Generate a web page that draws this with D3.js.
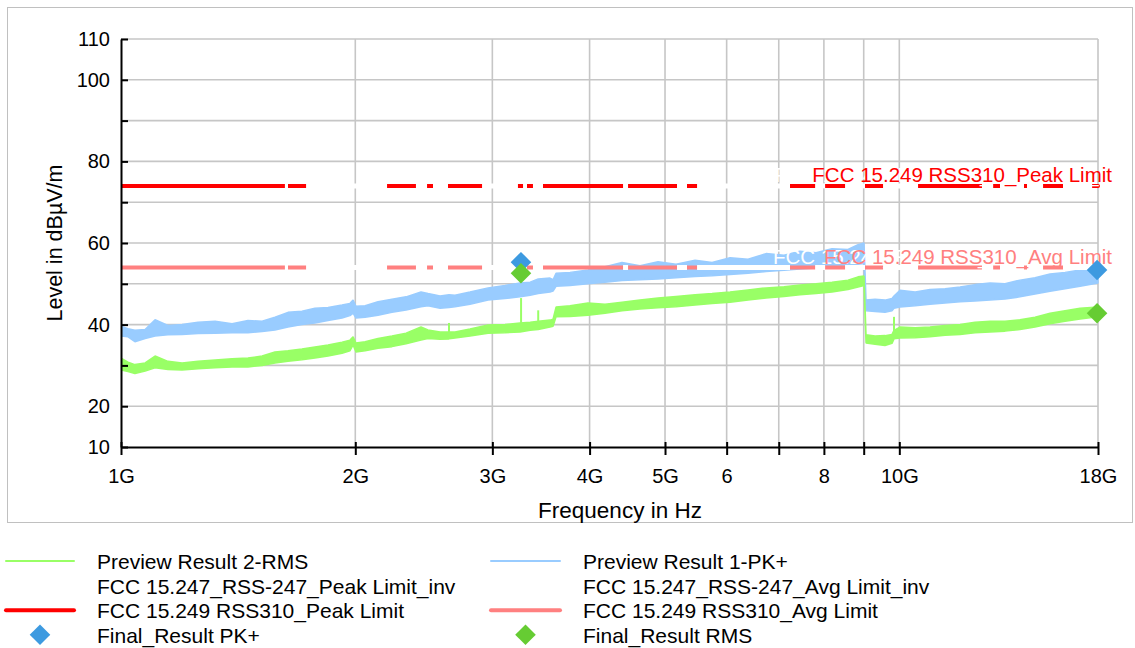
<!DOCTYPE html>
<html>
<head>
<meta charset="utf-8">
<script src="https://cdn.jsdelivr.net/npm/d3@7"></script>
<style>
  html, body { margin: 0; padding: 0; background: #fff; }
  svg { display: block; font-family: "Liberation Sans", Arial, sans-serif; }
</style>
</head>
<body>
<svg id="chart" width="1135" height="648"></svg>
<script>
// ---- Sweep data (frequency in GHz, level envelope in dBµV/m) ----
const freqGHz = [1.000, 1.021, 1.042, 1.074, 1.106, 1.149, 1.198, 1.256, 1.321, 1.389,
  1.456, 1.518, 1.577, 1.639, 1.708, 1.775, 1.845, 1.923, 1.969, 1.987,
  2.004, 2.059, 2.139, 2.229, 2.324, 2.429, 2.480, 2.570, 2.639, 2.686,
  2.808, 2.962, 3.114, 3.256, 3.355, 3.436, 3.558, 3.590, 3.622, 3.775,
  3.981, 4.187, 4.403, 4.643, 4.898, 5.166, 5.465, 5.747, 6.061, 6.392,
  6.742, 7.110, 7.454, 7.816, 8.194, 8.591, 8.850, 9.008, 9.062, 9.307,
  9.585, 9.786, 9.844, 10.02, 10.48, 10.95, 11.45, 11.97, 12.51, 13.08,
  13.67, 14.29, 14.94, 15.62, 16.33, 17.07, 18.00];

// Preview Result 1-PK+ (lower / upper edge of the trace)
const pkLo = [37.2, 37.0, 35.8, 36.6, 37.2, 37.5, 37.6, 37.8, 37.9, 38.0,
  38.0, 38.3, 38.7, 39.4, 40.0, 40.4, 41.0, 41.6, 42.2, 42.8,
  41.6, 41.8, 42.3, 43.0, 43.6, 44.4, 44.6, 44.0, 44.2, 44.4,
  45.0, 46.0, 46.4, 46.8, 47.2, 47.6, 48.0, 48.2, 49.4, 49.6,
  50.0, 50.4, 50.8, 51.0, 51.2, 51.5, 51.8, 52.0, 52.3, 52.6,
  53.0, 53.3, 53.6, 53.9, 54.2, 54.5, 54.8, 55.0, 43.4, 43.2,
  43.0, 43.4, 44.0, 44.3, 44.6, 45.0, 45.3, 45.6, 45.8, 46.0,
  46.3, 46.8, 47.5, 48.2, 48.8, 49.4, 50.2];
const pkHi = [39.6, 39.0, 38.6, 38.8, 41.2, 39.8, 40.0, 40.6, 40.8, 40.2,
  41.0, 40.8, 41.8, 43.0, 43.3, 44.0, 44.2, 44.8, 45.2, 46.0,
  44.5, 44.6, 45.6, 46.2, 46.8, 48.0, 47.6, 47.0, 47.3, 47.2,
  48.0, 49.0, 49.6, 50.2, 50.4, 51.2, 51.4, 51.0, 52.6, 52.8,
  53.4, 54.2, 55.2, 54.4, 55.4, 54.8, 55.8, 55.2, 56.4, 56.0,
  57.4, 57.0, 58.0, 57.6, 58.6, 58.4, 59.6, 60.0, 46.0, 46.2,
  46.0, 46.4, 47.0, 48.4, 48.0, 48.6, 48.8, 49.2, 49.8, 50.2,
  50.0, 50.9, 51.5, 52.4, 52.8, 53.4, 53.6];

// Preview Result 2-RMS (lower / upper edge of the trace)
const rmsLo = [28.9, 28.5, 28.0, 28.6, 29.4, 29.0, 28.9, 29.2, 29.4, 29.6,
  29.6, 30.0, 30.6, 31.0, 31.4, 31.8, 32.3, 33.0, 33.6, 35.0,
  33.3, 33.6, 34.2, 34.6, 35.3, 36.2, 36.6, 36.4, 36.5, 36.7,
  37.2, 37.9, 38.0, 38.2, 38.6, 38.8, 39.4, 39.6, 41.9, 42.0,
  42.3, 42.8, 43.4, 43.8, 44.1, 44.4, 44.8, 45.2, 45.5, 46.0,
  46.5, 46.9, 47.3, 47.6, 48.0, 48.6, 49.2, 49.6, 35.5, 35.2,
  34.9, 35.4, 36.5, 36.7, 36.8, 37.0, 37.4, 37.6, 38.0, 38.2,
  38.4, 38.8, 39.4, 40.2, 40.8, 41.4, 41.9];
const rmsHi = [31.8, 30.8, 30.2, 30.6, 32.3, 31.0, 30.6, 31.0, 31.3, 31.6,
  31.8, 32.3, 33.3, 33.6, 34.0, 34.5, 35.0, 35.7, 36.2, 37.0,
  35.5, 35.8, 36.6, 37.2, 37.9, 39.4, 38.7, 38.2, 38.2, 38.2,
  38.9, 39.9, 40.0, 40.4, 40.6, 40.8, 41.1, 41.3, 44.3, 44.6,
  45.3, 45.0, 45.5, 46.0, 46.5, 46.9, 47.3, 47.6, 48.0, 48.5,
  49.0, 49.3, 49.7, 50.0, 50.4, 50.9, 51.7, 51.9, 37.5, 37.2,
  37.3, 37.6, 38.6, 39.4, 39.2, 39.4, 39.8, 40.0, 40.6, 40.8,
  40.8, 41.2, 41.8, 42.8, 43.4, 44.0, 44.3];

// Narrow spurs that stand out above the traces
const rmsSpurFreq = [2.639, 3.266, 3.436, 9.844];
const rmsSpurBase = [38.0, 40.2, 40.6, 38.0];
const rmsSpurTop  = [40.4, 46.5, 43.5, 41.9];

// ---- Limits ----
const peakLimit = 74;   // FCC 15.249 RSS310 peak
const avgLimit = 54;    // FCC 15.249 RSS310 average
// Bands of the FCC 15.247 / RSS-247 "_inv" limits (drawn in white on the same levels)
const invBands = [[1.624, 1.639], [1.729, 2.197], [2.393, 2.473], [2.517, 2.631],
  [2.910, 3.236], [3.285, 3.324], [3.383, 3.485], [4.416, 4.482], [5.180, 5.336],
  [5.497, 7.237], [7.795, 8.029], [8.517, 9.035], [9.530, 10.57], [12.77, 13.20],
  [13.47, 14.46], [14.59, 15.30], [16.23, 17.69]];

// ---- Final measurements ----
const finalFreq = [3.265, 17.95];
const finalPk = [55.3, 53.4];
const finalRms = [52.6, 42.8];

// ---- Axes ----
const xTicks = [1, 2, 3, 4, 5, 6, 7, 8, 9, 10, 18];
const xTickLabels = ["1G", "2G", "3G", "4G", "5G", "6", "", "8", "", "10G", "18G"];
const yTicks = [10, 20, 30, 40, 50, 60, 70, 80, 90, 100, 110];
const yTickLabels = ["10", "20", "", "40", "", "60", "", "80", "", "100", "110"];

// ---- Colours ----
const cPk = "#99ccff", cRms = "#99ff66";
const cPeakLim = "#ff0000", cAvgLim = "#ff8080";
const cFinalPk = "#3d9ae0", cFinalRms = "#66cc33";
const cGrid = "#c6c6c6";

const svg = d3.select("#chart");
const L = 121, R = 1098, T = 39, B = 447;
const x = d3.scaleLog().domain([1, 18]).range([L, R]);
const y = d3.scaleLinear().domain([10, 110]).range([B, T]);

// outer frame
svg.append("rect").attr("x", 7.5).attr("y", 7.5).attr("width", 1125).attr("height", 515)
  .attr("fill", "none").attr("stroke", "#c0c0c0").attr("stroke-width", 1);

svg.append("defs").append("clipPath").attr("id", "plot")
  .append("rect").attr("x", L).attr("y", T - 12).attr("width", R - L + 14).attr("height", B - T + 12);

// grid
const grid = svg.append("g");
grid.selectAll("line.h").data(yTicks.filter(v => v > 10)).join("line")
  .attr("x1", L).attr("x2", R).attr("y1", d => y(d)).attr("y2", d => y(d))
  .attr("stroke", cGrid).attr("stroke-width", 1.6);
grid.selectAll("line.v").data(xTicks.filter(v => v > 1)).join("line")
  .attr("x1", d => x(d)).attr("x2", d => x(d)).attr("y1", T).attr("y2", B)
  .attr("stroke", cGrid).attr("stroke-width", 1.6);

const plot = svg.append("g").attr("clip-path", "url(#plot)");

const pkRows = freqGHz.map((f, i) => ({ f, lo: pkLo[i], hi: pkHi[i] }));
const rmsRows = freqGHz.map((f, i) => ({ f, lo: rmsLo[i], hi: rmsHi[i] }));
const band = d3.area().x(d => x(d.f)).y0(d => y(d.lo)).y1(d => y(d.hi)).curve(d3.curveLinear);

plot.append("path").datum(pkRows).attr("d", band)
  .attr("fill", cPk).attr("stroke", cPk).attr("stroke-width", 1.5).attr("stroke-linejoin", "bevel");
plot.append("path").datum(rmsRows).attr("d", band)
  .attr("fill", cRms).attr("stroke", cRms).attr("stroke-width", 1.5).attr("stroke-linejoin", "bevel");
plot.selectAll("line.spur").data(rmsSpurFreq).join("line")
  .attr("x1", d => x(d)).attr("x2", d => x(d))
  .attr("y1", (d, i) => y(rmsSpurBase[i])).attr("y2", (d, i) => y(rmsSpurTop[i]))
  .attr("stroke", cRms).attr("stroke-width", 2);

// limit lines
[[peakLimit, cPeakLim], [avgLimit, cAvgLim]].forEach(([lv, col]) => {
  plot.append("line").attr("x1", x(1)).attr("x2", x(18)).attr("y1", y(lv)).attr("y2", y(lv))
    .attr("stroke", col).attr("stroke-width", 4).attr("stroke-linecap", "round");
});
// white "_inv" limits on top
[peakLimit, avgLimit].forEach(lv => {
  plot.selectAll(null).data(invBands).join("line")
    .attr("x1", d => x(d[0])).attr("x2", d => x(d[1]))
    .attr("y1", y(lv)).attr("y2", y(lv))
    .attr("stroke", "#ffffff").attr("stroke-width", 5);
});

// limit labels (white _inv labels underneath the visible ones)
const labelX = x(18) + 14;
svg.append("text").attr("x", 775).attr("y", y(peakLimit) - 4).attr("fill", "#ffffff")
  .attr("font-size", 20.5).text("FCC 15.247_RSS-247_Peak Limit_inv");
svg.append("text").attr("x", 773).attr("y", y(avgLimit) - 3).attr("fill", "#ffffff")
  .attr("font-size", 20.5).text("FCC 15.247_RSS-247_Avg Limit_inv");
svg.append("text").attr("x", labelX).attr("y", y(peakLimit) - 4).attr("text-anchor", "end")
  .attr("fill", cPeakLim).attr("font-size", 20.5).text("FCC 15.249 RSS310_Peak Limit");
svg.append("text").attr("x", labelX).attr("y", y(avgLimit) - 3).attr("text-anchor", "end")
  .attr("fill", cAvgLim).attr("font-size", 20.5).text("FCC 15.249 RSS310_Avg Limit");

// final result markers
const diamond = d3.symbol().type(d3.symbolDiamond2).size(270);
svg.selectAll("path.fpk").data(finalFreq).join("path")
  .attr("d", diamond).attr("transform", (d, i) => `translate(${x(d)},${y(finalPk[i])})`)
  .attr("fill", cFinalPk);
svg.selectAll("path.frms").data(finalFreq).join("path")
  .attr("d", diamond).attr("transform", (d, i) => `translate(${x(d)},${y(finalRms[i])})`)
  .attr("fill", cFinalRms);

// axes
const xAxis = svg.append("g").attr("transform", `translate(0,${B})`)
  .call(d3.axisBottom(x).tickValues(xTicks).tickFormat((d, i) => xTickLabels[i]).tickSize(8).tickSizeOuter(0));
const yAxis = svg.append("g").attr("transform", `translate(${L},0)`)
  .call(d3.axisLeft(y).tickValues(yTicks).tickFormat((d, i) => yTickLabels[i]).tickSize(6).tickSizeOuter(0));
[xAxis, yAxis].forEach(g => {
  g.select(".domain").attr("stroke", "#000").attr("stroke-width", 2);
  g.selectAll(".tick line").attr("stroke", "#000").attr("stroke-width", 2);
  g.selectAll(".tick text").attr("fill", "#000").attr("font-size", 20)
    .attr("font-family", "Liberation Sans, Arial, sans-serif");
});
xAxis.selectAll(".tick line").attr("y1", -5);
xAxis.selectAll(".tick text").attr("y", 22).attr("dy", "0.71em");
yAxis.selectAll(".tick line").attr("x2", 7);
yAxis.selectAll(".tick text").attr("x", -11);

// axis titles
svg.append("text").attr("x", 620).attr("y", 518).attr("text-anchor", "middle")
  .attr("font-size", 22.5).attr("fill", "#000").text("Frequency in Hz");
svg.append("text").attr("transform", "translate(62,243) rotate(-90)").attr("text-anchor", "middle")
  .attr("font-size", 21.5).attr("fill", "#000").text("Level in dBµV/m");

// legend
const legendLeft = [
  { kind: "line", color: cRms, w: 2, text: "Preview Result 2-RMS" },
  { kind: "line", color: "#ffffff", w: 2, text: "FCC 15.247_RSS-247_Peak Limit_inv" },
  { kind: "line", color: cPeakLim, w: 4, text: "FCC 15.249 RSS310_Peak Limit" },
  { kind: "mark", color: cFinalPk, text: "Final_Result PK+" }
];
const legendRight = [
  { kind: "line", color: cPk, w: 2, text: "Preview Result 1-PK+" },
  { kind: "line", color: "#ffffff", w: 2, text: "FCC 15.247_RSS-247_Avg Limit_inv" },
  { kind: "line", color: cAvgLim, w: 4, text: "FCC 15.249 RSS310_Avg Limit" },
  { kind: "mark", color: cFinalRms, text: "Final_Result RMS" }
];
function drawLegend(items, x0, x1, tx) {
  items.forEach((it, i) => {
    const base = 569 + i * 24.6;
    const cy = base - 8;
    if (it.kind === "line") {
      svg.append("line").attr("x1", x0).attr("x2", x1).attr("y1", cy).attr("y2", cy)
        .attr("stroke", it.color).attr("stroke-width", it.w).attr("stroke-linecap", "round");
    } else {
      svg.append("path").attr("d", diamond)
        .attr("transform", `translate(${(x0 + x1) / 2},${cy})`).attr("fill", it.color);
    }
    svg.append("text").attr("x", tx).attr("y", base).attr("font-size", 21)
      .attr("fill", "#000").text(it.text);
  });
}
drawLegend(legendLeft, 6, 74, 97);
drawLegend(legendRight, 491, 560, 583);
</script>
</body>
</html>
